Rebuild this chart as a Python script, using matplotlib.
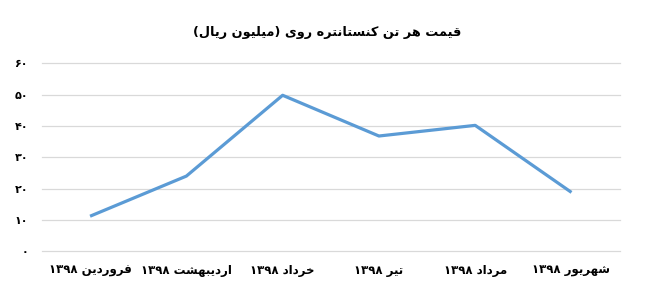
"""Zinc concentrate price per ton, 1398 (million rials) — line chart."""
import matplotlib
matplotlib.use("Agg")
import matplotlib.pyplot as plt

# ----- data -----
months = ["فروردین ۱۳۹۸", "اردیبهشت ۱۳۹۸", "خرداد ۱۳۹۸",
          "تیر ۱۳۹۸", "مرداد ۱۳۹۸", "شهریور ۱۳۹۸"]
price = [11.2, 24.0, 49.8, 36.8, 40.2, 18.8]
yticks = [0, 10, 20, 30, 40, 50, 60]
title = "قیمت هر تن کنستانتره روی (میلیون ریال)"

# ----- minimal Persian shaping (matplotlib 3.10 has no bidi/shaping) -----
# letter: (isolated, final, initial, medial); None for right-joining only
FORMS = {
    "ا": (0xFE8D, 0xFE8E, None, None),
    "ب": (0xFE8F, 0xFE90, 0xFE91, 0xFE92),
    "ت": (0xFE95, 0xFE96, 0xFE97, 0xFE98),
    "خ": (0xFEA5, 0xFEA6, 0xFEA7, 0xFEA8),
    "د": (0xFEA9, 0xFEAA, None, None),
    "ر": (0xFEAD, 0xFEAE, None, None),
    "س": (0xFEB1, 0xFEB2, 0xFEB3, 0xFEB4),
    "ش": (0xFEB5, 0xFEB6, 0xFEB7, 0xFEB8),
    "ف": (0xFED1, 0xFED2, 0xFED3, 0xFED4),
    "ق": (0xFED5, 0xFED6, 0xFED7, 0xFED8),
    "ل": (0xFEDD, 0xFEDE, 0xFEDF, 0xFEE0),
    "م": (0xFEE1, 0xFEE2, 0xFEE3, 0xFEE4),
    "ن": (0xFEE5, 0xFEE6, 0xFEE7, 0xFEE8),
    "ه": (0xFEE9, 0xFEEA, 0xFEEB, 0xFEEC),
    "و": (0xFEED, 0xFEEE, None, None),
    "ی": (0xFBFC, 0xFBFD, 0xFBFE, 0xFBFF),
    "ک": (0xFB8E, 0xFB8F, 0xFB90, 0xFB91),
}
PERSIAN_DIGITS = "۰۱۲۳۴۵۶۷۸۹"
MIRROR = {"(": ")", ")": "("}


def dual(ch):
    return ch in FORMS and FORMS[ch][2] is not None


def fa(s):
    out = []
    for i, ch in enumerate(s):
        if ch not in FORMS:
            out.append(MIRROR.get(ch, ch))
            continue
        prev = s[i - 1] if i > 0 else ""
        nxt = s[i + 1] if i + 1 < len(s) else ""
        jp = dual(prev)
        jn = dual(ch) and nxt in FORMS
        iso, fin, ini, med = FORMS[ch]
        if jp and jn:
            code = med
        elif jp:
            code = fin
        elif jn:
            code = ini
        else:
            code = iso
        out.append(chr(code))
    # reverse for RTL, keep digit runs left-to-right
    vis = "".join(reversed(out))
    res, run = [], ""
    for ch in vis:
        if ch in PERSIAN_DIGITS or ch.isdigit():
            run += ch
        else:
            res.append(run[::-1])
            run = ""
            res.append(ch)
    res.append(run[::-1])
    return "".join(res)


def fa_num(n):
    return "".join(PERSIAN_DIGITS[int(d)] for d in str(n))


plt.rcParams["font.family"] = ["DejaVu Sans"]

fig = plt.figure(figsize=(6.55, 2.91), dpi=100)
ax = fig.add_axes([0.064, 0.1364, 0.882, 0.646])

x = list(range(len(months)))
ax.plot(x, price, color="#5B9BD5", lw=2.3, solid_capstyle="butt", zorder=3)

ax.set_xlim(-0.5, len(months) - 0.5)
ax.set_ylim(0, 60)
ax.set_yticks(yticks)
ax.set_yticklabels([fa_num(v) for v in yticks], fontsize=8, fontweight="bold")
ax.set_xticks(x)
ax.set_xticklabels([fa(m) for m in months], fontsize=8.5, fontweight="bold")
ax.tick_params(axis="both", length=0)
ax.tick_params(axis="y", pad=10)
ax.tick_params(axis="x", pad=9)
ax.grid(axis="y", color="#D9D9D9", lw=0.9)
for gl in ax.yaxis.get_gridlines():
    gl.set_clip_on(False)
ax.set_axisbelow(True)
for sp in ax.spines.values():
    sp.set_visible(False)

fig.text(0.5, 0.89, fa(title), ha="center", va="center",
         fontsize=9.3, fontweight="bold")

fig.savefig("out.png", dpi=100)
